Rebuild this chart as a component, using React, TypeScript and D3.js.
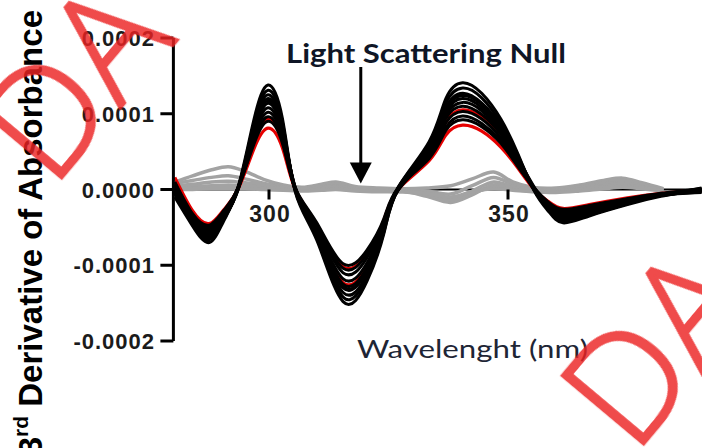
import React from "react";
import * as d3 from "d3";

const W = 702;
const H = 448;
const UNIT = 1e-4;

// Wavelength grid (nm) for the derivative spectra
const wavelengths = [
  280.3, 284, 287.5, 290.5, 293.5, 296.8, 299.8, 302.8, 305.5, 310, 315.5, 320.5, 324, 327,
  333.5, 337, 340.5, 344.5, 348.5, 352, 355.5, 358.5, 361.5, 367, 375, 382, 390.5,
];

// 3rd derivative values (x 1e-4) for the black spectra
const black1 = [-0.10, -0.48, -0.70, -0.42, 0.02, 0.91, 1.38, 0.94, -0.03, -0.67, -1.48, -1.21, -0.59, 0.02, 0.63, 1.20, 1.41, 1.27, 0.93, 0.48, -0.02, -0.29, -0.44, -0.35, -0.20, -0.09, 0.00];
const black2 = [-0.06, -0.45, -0.66, -0.40, 0.01, 0.86, 1.31, 0.89, -0.02, -0.64, -1.42, -1.16, -0.57, 0.00, 0.60, 1.14, 1.34, 1.21, 0.88, 0.46, -0.01, -0.27, -0.42, -0.34, -0.19, -0.08, -0.02];
const black3 = [-0.04, -0.43, -0.63, -0.38, 0.00, 0.83, 1.25, 0.85, 0.00, -0.61, -1.36, -1.12, -0.54, 0.01, 0.57, 1.08, 1.27, 1.14, 0.84, 0.43, 0.01, -0.26, -0.40, -0.32, -0.18, -0.08, 0.02];
const black4 = [-0.02, -0.41, -0.60, -0.36, -0.01, 0.79, 1.20, 0.82, 0.01, -0.59, -1.30, -1.07, -0.52, -0.01, 0.54, 1.02, 1.20, 1.08, 0.79, 0.41, 0.00, -0.25, -0.38, -0.30, -0.17, -0.08, -0.01];
const black5 = [0.00, -0.39, -0.58, -0.35, 0.02, 0.75, 1.14, 0.78, 0.02, -0.56, -1.25, -1.03, -0.50, 0.02, 0.52, 0.98, 1.15, 1.04, 0.76, 0.39, 0.02, -0.23, -0.36, -0.29, -0.16, -0.07, 0.01];
const black6 = [0.02, -0.37, -0.55, -0.33, 0.01, 0.71, 1.08, 0.73, 0.00, -0.53, -1.18, -0.97, -0.47, 0.00, 0.50, 0.94, 1.10, 0.99, 0.73, 0.37, -0.01, -0.22, -0.34, -0.27, -0.15, -0.07, -0.03];
const black7 = [0.05, -0.35, -0.52, -0.31, 0.00, 0.67, 1.02, 0.69, -0.01, -0.50, -1.10, -0.90, -0.44, -0.01, 0.46, 0.88, 1.03, 0.93, 0.68, 0.35, 0.00, -0.20, -0.31, -0.25, -0.14, -0.06, 0.00];
const black8 = [0.07, -0.34, -0.50, -0.30, 0.01, 0.63, 0.96, 0.65, 0.01, -0.47, -1.04, -0.85, -0.42, 0.01, 0.44, 0.82, 0.97, 0.87, 0.64, 0.33, 0.01, -0.19, -0.29, -0.23, -0.13, -0.06, -0.02];
const black9 = [0.10, -0.32, -0.47, -0.28, 0.02, 0.59, 0.90, 0.61, 0.02, -0.44, -0.98, -0.80, -0.39, 0.02, 0.41, 0.78, 0.92, 0.83, 0.61, 0.31, 0.02, -0.17, -0.26, -0.21, -0.12, -0.05, 0.01];
const black10 = [-0.03, -0.40, -0.56, -0.33, 0.03, 0.78, 1.17, 0.80, 0.03, -0.55, -1.28, -1.06, -0.52, 0.03, 0.58, 1.06, 1.24, 1.12, 0.82, 0.42, 0.03, -0.27, -0.41, -0.33, -0.19, -0.08, -0.04];

// Highlighted spectra (red)
const red1 = [0.16, -0.28, -0.45, -0.27, 0.00, 0.53, 0.81, 0.55, 0.00, -0.46, -1.02, -0.84, -0.41, 0.00, 0.38, 0.72, 0.85, 0.77, 0.56, 0.29, 0.00, -0.16, -0.25, -0.20, -0.11, -0.05, 0.00];
const red2 = [0.10, -0.32, -0.50, -0.30, 0.01, 0.62, 0.94, 0.64, 0.00, -0.55, -1.23, -1.01, -0.49, 0.00, 0.47, 0.89, 1.05, 0.95, 0.69, 0.36, 0.00, -0.18, -0.28, -0.22, -0.13, -0.06, -0.02];

// Buffer / blank spectra (gray), on their own grid
const grayWavelengths = [280.3, 284, 288, 291.5, 295, 299, 303, 307, 311, 314, 318, 323, 328, 333, 338, 342.5, 347, 351, 355, 360, 365, 370, 374, 378, 382.5];
const gray1 = [0.10, 0.18, 0.26, 0.30, 0.24, 0.13, 0.06, 0.03, 0.07, 0.10, 0.04, 0.02, 0.01, 0.02, 0.05, 0.14, 0.23, 0.10, 0.03, 0.02, 0.06, 0.12, 0.15, 0.09, 0.01];
const gray2 = [0.08, 0.12, 0.16, 0.18, 0.14, 0.08, 0.04, 0.02, 0.05, 0.07, 0.02, 0.01, 0.00, -0.02, -0.06, 0.05, 0.16, 0.07, 0.01, 0.00, 0.04, 0.09, 0.12, 0.06, 0.00];
const gray3 = [0.05, 0.07, 0.10, 0.11, 0.09, 0.06, 0.03, 0.01, 0.03, 0.05, 0.01, 0.00, -0.01, -0.06, -0.12, -0.02, 0.10, 0.04, 0.00, -0.01, 0.03, 0.07, 0.09, 0.04, 0.00];
const gray4 = [0.03, 0.04, 0.05, 0.06, 0.05, 0.04, 0.02, 0.00, 0.02, 0.03, 0.00, -0.01, -0.02, -0.09, -0.17, -0.07, 0.06, 0.02, -0.01, -0.02, 0.01, 0.05, 0.07, 0.03, 0.00];
const gray5 = [0.01, 0.02, 0.03, 0.03, 0.03, 0.02, 0.01, -0.01, 0.00, 0.01, -0.01, -0.02, -0.03, -0.07, -0.14, -0.05, 0.03, 0.00, -0.02, -0.03, 0.00, 0.03, 0.05, 0.02, -0.01];
const gray6 = [0.00, 0.00, 0.01, 0.01, 0.01, 0.00, -0.01, -0.02, -0.01, 0.00, -0.02, -0.03, -0.03, -0.05, -0.10, -0.03, 0.01, -0.01, -0.03, -0.04, -0.02, 0.01, 0.03, 0.01, -0.02];

const blackSeries = [black1, black2, black3, black4, black5, black6, black7, black8, black9, black10];
const redSeries = [red1, red2];
const graySeries = [gray1, gray2, gray3, gray4, gray5, gray6];

const yTicks = [-0.0002, -0.0001, 0, 0.0001, 0.0002];
const xTicks = [300, 350];
const nullWavelength = 319.2;
const nullArrowTip = 0.000008;

const x = d3.scaleLinear().domain([280, 390]).range([173.4, 699.2]);
const y = d3.scaleLinear().domain([-0.0002, 0.0002]).range([341, 38]);

const spectrumLine = d3
  .line<[number, number]>()
  .x((d) => x(d[0]))
  .y((d) => y(d[1] * UNIT))
  .curve(d3.curveNatural);

const blankLine = d3
  .line<[number, number]>()
  .x((d) => x(d[0]))
  .y((d) => y(d[1] * UNIT))
  .curve(d3.curveCatmullRom.alpha(0.5));

const toPoints = (grid: number[], vals: number[]) =>
  grid.map((w, i) => [w, vals[i]] as [number, number]);

const fmt = (v: number) => d3.format(".4f")(v).replace("\u2212", "-");

const axisFont = "'Liberation Sans', Arial, sans-serif";
const textFont = "Lato, 'Open Sans', sans-serif";

export default function App() {
  const x0 = x(280);
  const yZero = y(0);
  const ax = x(nullWavelength);
  const aTip = y(nullArrowTip);
  return (
    <svg width={W} height={H} style={{ position: "absolute", left: 0, top: 0, background: "#fff" }}>
      <rect width={W} height={H} fill="#fff" />

      {/* x axis line at zero */}
      <line x1={x0} x2={x(390)} y1={yZero} y2={yZero} stroke="#000" strokeWidth={2} />

      {/* gray spectra */}
      {graySeries.map((s, i) => (
        <path key={"g" + i} d={blankLine(toPoints(grayWavelengths, s)) || ""} fill="none" stroke="#a3a3a3" strokeWidth={3.5} />
      ))}

      {/* red spectra */}
      {redSeries.map((s, i) => (
        <path key={"r" + i} d={spectrumLine(toPoints(wavelengths, s)) || ""} fill="none" stroke="#e60000" strokeWidth={3.2} />
      ))}

      {/* black spectra */}
      {blackSeries.map((s, i) => (
        <path key={"b" + i} d={spectrumLine(toPoints(wavelengths, s)) || ""} fill="none" stroke="#000" strokeWidth={3} />
      ))}

      {/* x ticks */}
      {xTicks.map((t) => (
        <g key={"xt" + t}>
          <line x1={x(t)} x2={x(t)} y1={yZero} y2={yZero + 10} stroke="#000" strokeWidth={3} />
          <text x={x(t) + 1} y={222} textAnchor="middle" fontFamily={axisFont} fontWeight="bold" fontSize={23} letterSpacing={1} fill="#1b1b1b">
            {t}
          </text>
        </g>
      ))}

      {/* y axis */}
      <line x1={x0} x2={x0} y1={y(0.0002)} y2={y(-0.0002)} stroke="#000" strokeWidth={3} />
      {yTicks.map((t) => (
        <g key={"yt" + t}>
          <line x1={x0 - 13} x2={x0} y1={y(t)} y2={y(t)} stroke="#000" strokeWidth={3} />
          <text x={155} y={y(t) + 8} textAnchor="end" fontFamily={axisFont} fontWeight="bold" fontSize={22} letterSpacing={1} fill="#1b1b1b">
            {fmt(t)}
          </text>
        </g>
      ))}

      {/* y axis title */}
      <text transform="translate(42,10) rotate(-90)" textAnchor="end" fontFamily={axisFont} fontWeight="bold" fontSize={33} fill="#000">
        3<tspan fontSize={21} dy={-14}>rd</tspan>
        <tspan dy={14}> Derivative of Absorbance</tspan>
      </text>

      {/* x axis title */}
      <text x={357} y={358} fontFamily={textFont} fontSize={25} textLength={231} lengthAdjust="spacingAndGlyphs" fill="#1e2535">
        Wavelenght (nm)
      </text>

      {/* light scattering null annotation */}
      <text x={286} y={63} fontFamily={textFont} fontWeight="bold" fontSize={27} textLength={280} lengthAdjust="spacingAndGlyphs" fill="#0f1626">
        Light Scattering Null
      </text>
      <line x1={ax} x2={ax} y1={67} y2={aTip - 18} stroke="#000" strokeWidth={3} />
      <path d={`M${ax - 11},${aTip - 21} L${ax + 11},${aTip - 21} L${ax},${aTip} Z`} fill="#000" />

      {/* watermark */}
      <g fontFamily="'Open Sans', sans-serif" fontWeight={300} fontSize={150} fill="rgb(236,36,36)" stroke="rgb(236,36,36)" strokeWidth={2.5} opacity={0.82}>
        <text transform="translate(52,190) rotate(-50)">DA</text>
        <text transform="translate(634,456) rotate(-50)">DA</text>
      </g>
    </svg>
  );
}
